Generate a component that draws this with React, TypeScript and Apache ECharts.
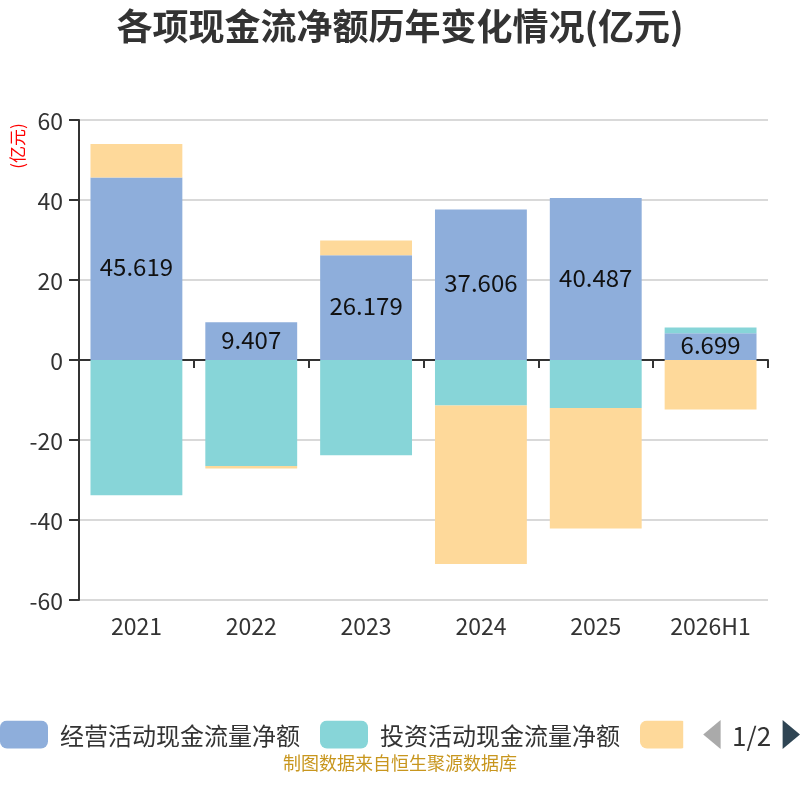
import React, { useEffect, useRef } from "react";
import * as echarts from "echarts";

const categories = ["2021", "2022", "2023", "2024", "2025", "2026H1"];
const operating = [45.619, 9.407, 26.179, 37.606, 40.487, 6.699];
const investing = [-33.8, -26.5, -23.8, -11.4, -12.0, 1.4];
const financing = [8.4, -0.6, 3.7, -39.6, -30.1, -12.4];
const seriesNames = ["经营活动现金流量净额", "投资活动现金流量净额", "筹资活动现金流量净额"];
const yTicks = { min: -60, max: 60, interval: 20 };

export default function App() {
  const ref = useRef<HTMLDivElement>(null);
  useEffect(() => {
    if (!ref.current) return;
    const chart = echarts.init(ref.current, undefined, { renderer: "svg" });
    const font = "'Noto Sans CJK SC', 'Noto Sans', sans-serif";
    chart.setOption({
      animation: false,
      textStyle: { fontFamily: font },
      title: {
        text: "各项现金流净额历年变化情况(亿元)",
        left: "center",
        top: 1,
        textStyle: { fontSize: 36, fontWeight: "bold", color: "#333", fontFamily: font },
      },
      grid: { left: 79, right: 32, top: 120, bottom: 200, containLabel: false, outerBoundsMode: "none" },
      legend: {
        type: "scroll",
        left: 0,
        right: 0,
        top: 720,
        padding: 0,
        itemWidth: 48,
        itemHeight: 28,
        itemGap: 20,
        textStyle: { fontSize: 24, color: "#333", fontFamily: font, padding: [0, 0, 0, 7] },
        pageIconSize: [18, 29],
        pageIconColor: "#2f4554",
        pageIconInactiveColor: "#aaa",
        pageTextStyle: { fontSize: 26, color: "#333" },
        pageButtonItemGap: 0,
        pageButtonGap: 20,
        data: seriesNames,
      },
      xAxis: {
        type: "category",
        data: categories,
        axisLine: { onZero: true, lineStyle: { color: "#333", width: 2 } },
        axisTick: { show: true, length: 8, lineStyle: { color: "#333", width: 2 } },
        axisLabel: { fontSize: 23, color: "#333", margin: 13, fontFamily: font },
      },
      yAxis: {
        type: "value",
        min: yTicks.min,
        max: yTicks.max,
        interval: yTicks.interval,
        axisLine: { show: true, lineStyle: { color: "#333", width: 2 } },
        axisTick: { show: true, length: 10, lineStyle: { color: "#333", width: 2 } },
        axisLabel: { fontSize: 23, color: "#333", margin: 16, fontFamily: font },
        splitLine: { lineStyle: { color: "#ccc", width: 1.5 } },
      },
      graphic: [
        {
          type: "text",
          x: 16,
          y: 146,
          rotation: Math.PI / 2,
          style: {
            text: "(亿元)",
            fill: "#ff0000",
            fontSize: 17,
            fontFamily: font,
            textAlign: "center",
            textVerticalAlign: "middle",
          },
        },
        {
          type: "text",
          left: "center",
          top: 753,
          style: {
            text: "制图数据来自恒生聚源数据库",
            fill: "#c8961e",
            fontSize: 18,
            fontFamily: font,
          },
        },
      ],
      series: [
        {
          name: seriesNames[0],
          type: "bar",
          stack: "total",
          barWidth: "80%",
          data: operating,
          itemStyle: { color: "#8eaedb" },
          label: {
            show: true,
            position: "inside",
            fontSize: 24,
            color: "#111",
            fontFamily: font,
            offset: [0, -3],
            formatter: (p: any) => String(p.value),
          },
        },
        {
          name: seriesNames[1],
          type: "bar",
          stack: "total",
          data: investing,
          itemStyle: { color: "#87d5d8" },
        },
        {
          name: seriesNames[2],
          type: "bar",
          stack: "total",
          data: financing,
          itemStyle: { color: "#fed99a" },
        },
      ],
    });
    return () => chart.dispose();
  }, []);
  return <div ref={ref} style={{ position: "fixed", left: 0, top: 0, width: 800, height: 800 }} />;
}
